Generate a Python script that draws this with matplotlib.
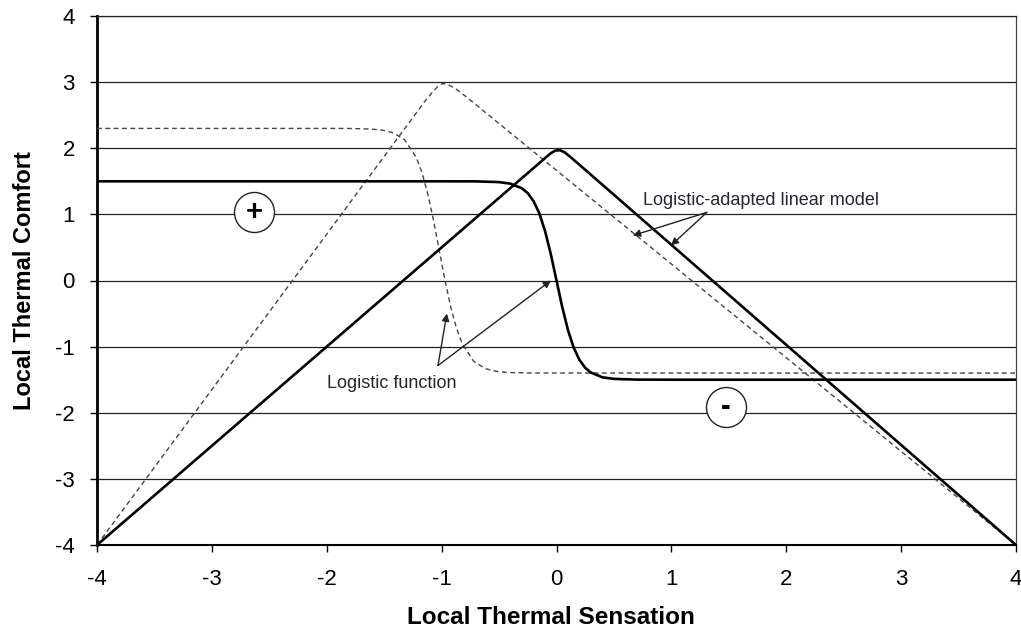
import matplotlib
matplotlib.use('Agg')
import matplotlib.pyplot as plt

plt.rcParams['font.family'] = ['Liberation Sans', 'DejaVu Sans']
plt.rcParams['axes.unicode_minus'] = False

# logistic function (solid)
logistic_x = [-4, -1.0, -0.7, -0.5, -0.4, -0.3, -0.25, -0.2, -0.15, -0.1, -0.05, 0.0,
              0.05, 0.1, 0.15, 0.2, 0.25, 0.3, 0.4, 0.5, 0.7, 1.0, 4]
logistic_y = [1.5, 1.5, 1.499, 1.488, 1.464, 1.393, 1.32, 1.201, 1.017, 0.751, 0.402, 0.0,
              -0.402, -0.751, -1.017, -1.201, -1.32, -1.393, -1.464, -1.488, -1.499, -1.5, -1.5]

# logistic function (dashed, shifted)
logistic2_x = [-4, -1.82, -1.62, -1.52, -1.42, -1.32, -1.22, -1.17, -1.12, -1.07, -1.02,
               -0.97, -0.92, -0.87, -0.82, -0.72, -0.62, -0.52, -0.42, -0.22, 4]
logistic2_y = [2.3, 2.3, 2.291, 2.275, 2.233, 2.124, 1.859, 1.625, 1.305, 0.903, 0.45,
               -0.003, -0.405, -0.725, -0.959, -1.224, -1.333, -1.375, -1.391, -1.399, -1.4]

# logistic-adapted linear model (solid)
linear_x = [-4, -0.16, -0.1, -0.05, -0.01, 0.03, 0.07, 0.12, 0.2, 4]
linear_y = [-4, 1.76, 1.85, 1.925, 1.965, 1.97, 1.94, 1.87, 1.75, -4]

# logistic-adapted linear model (dashed, shifted)
linear2_x = [-4, -1.15, -1.08, -1.03, -0.99, -0.94, -0.87, -0.78, 4]
linear2_y = [-4, 2.70, 2.85, 2.94, 2.98, 2.96, 2.89, 2.77, -4]

sign_x = [-2.634, 1.474]
sign_y = [1.03, -1.92]
sign_labels = ['+', '-']

ticks = [-4, -3, -2, -1, 0, 1, 2, 3, 4]

fig = plt.figure(figsize=(10.21, 6.31), dpi=100)
ax = fig.add_axes([97/1021, 1-545/631, 919/1021, 529/631])

ax.set_xlim(-4, 4)
ax.set_ylim(-4, 4)
ax.set_xticks(ticks)
ax.set_yticks(ticks)
ax.yaxis.grid(True, color='#222222', lw=0.9)
ax.set_axisbelow(True)

ax.plot(linear2_x, linear2_y, color='#444444', lw=1.0, dashes=(3.5, 2.5), zorder=3)
ax.plot(logistic2_x, logistic2_y, color='#444444', lw=1.0, dashes=(3.5, 2.5), zorder=3)
ax.plot(linear_x, linear_y, color='black', lw=1.9, zorder=4)
ax.plot(logistic_x, logistic_y, color='black', lw=1.9, zorder=4)

ax.scatter(sign_x, sign_y, s=830, facecolor='white', edgecolor='#222222', lw=1.0, zorder=5)
for sx, sy, lab in zip(sign_x, sign_y, sign_labels):
    ax.text(sx, sy, lab, fontsize=21, fontweight='bold', ha='center', va='center', zorder=6)

# annotations
ann = dict(arrowstyle='-|>', color='#222222', lw=1.0, mutation_scale=11, shrinkA=0, shrinkB=0)
ax.annotate('', xy=(0.665, 0.68), xytext=(1.309, 1.03), arrowprops=ann, zorder=6)
ax.annotate('', xy=(0.996, 0.53), xytext=(1.309, 1.03), arrowprops=ann, zorder=6)
ax.text(0.752, 1.135, 'Logistic-adapted linear model', fontsize=13, color='#2a2233', va='baseline')
ax.annotate('', xy=(-0.954, -0.50), xytext=(-1.032, -1.286), arrowprops=ann, zorder=6)
ax.annotate('', xy=(-0.049, 0.0), xytext=(-1.032, -1.286), arrowprops=ann, zorder=6)
ax.text(-1.998, -1.62, 'Logistic function', fontsize=13, color='#2a2233', va='baseline')

ax.spines['left'].set_linewidth(2.0)
ax.spines['bottom'].set_linewidth(1.5)
ax.spines['top'].set_linewidth(0.9)
ax.spines['right'].set_linewidth(0.9)
ax.spines['top'].set_color('#222222')
ax.spines['right'].set_color('#444444')

ax.tick_params(axis='both', direction='out', length=5, width=1.0, labelsize=16)
ax.tick_params(axis='y', pad=11)
ax.tick_params(axis='x', pad=12)

ax.set_xlabel('Local Thermal Sensation', fontsize=17.5, fontweight='bold')
ax.set_ylabel('Local Thermal Comfort', fontsize=17, fontweight='bold')
ax.xaxis.set_label_coords(0.494, -0.116)
ax.yaxis.set_label_coords(-0.066, 0.5)

fig.savefig('out.png', dpi=100)
